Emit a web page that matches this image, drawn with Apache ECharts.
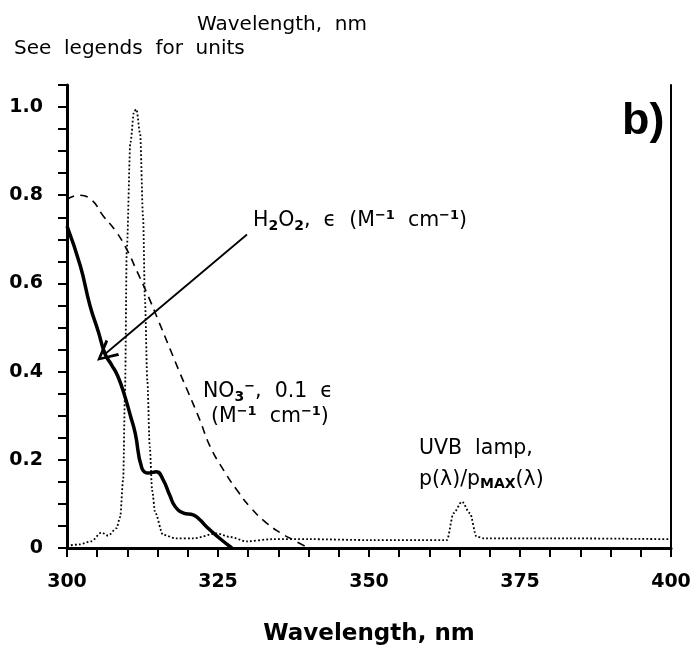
<!DOCTYPE html>
<html>
<head>
<meta charset="utf-8">
<script src="https://cdn.jsdelivr.net/npm/echarts@6/dist/echarts.min.js"></script>
<style>
	html, body { margin: 0; padding: 0; background: #fff; }
	#main { width: 696px; height: 647px; }
</style>
</head>
<body>
<div id="main"></div>
<script>
// 数据：近似值
var h2o2X = [300, 302.2, 303.8, 305.2, 306.3, 307.4, 308.4, 309.6, 310.5, 311.3, 312.4, 313.5, 314.8, 315.9, 317.0, 317.9, 319.3, 320.9, 322.0, 323.1, 325.0, 327.3];
var h2o2Y = [0.73, 0.64, 0.55, 0.49, 0.44, 0.415, 0.39, 0.343, 0.30, 0.26, 0.181, 0.17, 0.173, 0.155, 0.12, 0.094, 0.079, 0.075, 0.064, 0.048, 0.025, 0];

var no3X = [300, 301.9, 304, 306, 308, 309.9, 311.5, 313.2, 315, 317.1, 318.6, 320.1, 322, 323.7, 326, 328.1, 330.5, 333.1, 335.5, 337.5, 340];
var no3Y = [0.79, 0.80, 0.79, 0.753, 0.72, 0.677, 0.63, 0.579, 0.52, 0.45, 0.40, 0.352, 0.29, 0.23, 0.175, 0.132, 0.09, 0.056, 0.033, 0.018, 0];

var lampX = [300, 302, 304, 305.7, 306.8, 308.2, 308.8, 309.3, 309.6, 309.9, 310.5, 311.1, 311.5, 312.1, 312.6, 312.9, 313.3, 313.7, 314.1, 314.6, 315.9, 318, 321, 324.8, 327, 329.7, 334, 340, 350, 362.9, 364, 365.4, 366.7, 367.8, 369, 380, 400];
var lampY = [0.005, 0.008, 0.015, 0.035, 0.028, 0.045, 0.07, 0.155, 0.35, 0.68, 0.92, 0.99, 0.995, 0.94, 0.75, 0.565, 0.38, 0.23, 0.13, 0.08, 0.03, 0.022, 0.022, 0.033, 0.025, 0.015, 0.02, 0.02, 0.018, 0.018, 0.079, 0.105, 0.079, 0.026, 0.022, 0.022, 0.02];

// 箭头的起点与终点（数据坐标）
var arrowFrom = [329.8, 0.711];
var arrowTo = [306.3, 0.44];

function pairs(xs, ys) {
	return xs.map(function (x, i) { return [x, ys[i]]; });
}

var fontFam = 'DejaVu Sans';
var labelRich = {
	n: { fontSize: 20.5, fontFamily: fontFam, color: '#000', lineHeight: 30 },
	sub: { fontSize: 14, fontFamily: fontFam, fontWeight: 'bold', color: '#000', verticalAlign: 'bottom', padding: [0, 0, 3, 0] },
	sup: { fontSize: 13, fontFamily: fontFam, fontWeight: 'bold', color: '#000', verticalAlign: 'top', padding: [3, 0, 0, 0] },
	subb: { fontSize: 14, fontFamily: fontFam, color: '#000', fontWeight: 'bold', verticalAlign: 'bottom', padding: [0, 0, 3, 0] }
};

var myChart = echarts.init(document.getElementById('main'));

var option = {
	backgroundColor: '#fff',
	animation: false,
	grid: { left: 67, right: 25, top: 85, bottom: 99, outerBoundsMode: 'none', containLabel: false },
	xAxis: [{
		type: 'value',
		min: 300,
		max: 400,
		interval: 25,
		name: 'Wavelength, nm',
		nameLocation: 'middle',
		nameGap: 75,
		nameTextStyle: { fontFamily: fontFam, fontSize: 23, fontWeight: 'bold', color: '#000' },
		axisLine: { lineStyle: { color: '#000', width: 3 } },
		axisTick: { inside: false, length: 9, lineStyle: { color: '#000', width: 2 } },
		minorTick: { show: true, splitNumber: 5, length: 9, lineStyle: { color: '#000', width: 2 } },
		axisLabel: { margin: 25, fontFamily: fontFam, fontSize: 19, fontWeight: 'bold', color: '#000' },
		splitLine: { show: false }
	}, {
		type: 'value',
		position: 'top',
		min: 300,
		max: 400,
		axisLine: { show: true, lineStyle: { color: '#000', width: 2 } },
		axisTick: { show: false },
		axisLabel: { show: false },
		splitLine: { show: false }
	}],
	yAxis: [{
		type: 'value',
		min: 0,
		max: 1.05,
		interval: 0.2,
		axisLine: { show: true, lineStyle: { color: '#000', width: 3 } },
		axisTick: { inside: false, length: 9, lineStyle: { color: '#000', width: 2 } },
		minorTick: { show: true, splitNumber: 4, length: 9, lineStyle: { color: '#000', width: 2 } },
		axisLabel: {
			margin: 24,
			fontFamily: fontFam,
			fontSize: 19,
			fontWeight: 'bold',
			color: '#000',
			formatter: function (v) {
				if (Math.abs(v * 5 - Math.round(v * 5)) > 1e-6) return '';
				return v === 0 ? '0' : v.toFixed(1);
			}
		},
		splitLine: { show: false }
	}, {
		type: 'value',
		position: 'right',
		min: 0,
		max: 1.05,
		axisLine: { show: true, lineStyle: { color: '#000', width: 2 } },
		axisTick: { show: false },
		axisLabel: { show: false },
		splitLine: { show: false }
	}],
	series: [{
		name: 'UVB lamp',
		type: 'line',
		data: pairs(lampX, lampY),
		showSymbol: false,
		smooth: 0.3,
		smoothMonotone: 'x',
		lineStyle: { color: '#000', width: 1.8, type: [1.8, 2.2] },
		z: 2
	}, {
		name: 'NO3-',
		type: 'line',
		data: pairs(no3X, no3Y),
		showSymbol: false,
		smooth: true,
		lineStyle: { color: '#000', width: 1.6, type: [8, 6] },
		z: 3
	}, {
		name: 'H2O2',
		type: 'line',
		data: pairs(h2o2X, h2o2Y),
		showSymbol: false,
		smooth: true,
		lineStyle: { color: '#000', width: 3.5 },
		z: 4,
		markLine: {
			silent: true,
			animation: false,
			symbol: ['none', 'path://M0,0 L-6,15 L-4.4,15.7 L0,4.2 L4.4,15.7 L6,15 Z'],
			symbolSize: 21,
			label: { show: false },
			lineStyle: { color: '#000', width: 1.8, type: 'solid' },
			data: [[{ coord: arrowFrom }, { coord: arrowTo }]]
		}
	}],
	graphic: [{
		type: 'text', left: 197, top: 15,
		style: { text: 'Wavelength,  nm', font: '20px "DejaVu Sans"', fill: '#000' }
	}, {
		type: 'text', left: 14, top: 39,
		style: { text: 'See  legends  for  units', font: '20px "DejaVu Sans"', fill: '#000' }
	}, {
		type: 'text', left: 622, top: 99,
		style: { text: 'b)', font: 'bold 45px "Liberation Sans"', fill: '#000' }
	}, {
		type: 'text', left: 253, top: 209,
		style: {
			text: '{n|H}{sub|2}{n|O}{sub|2}{n|,  ϵ  (M}{sup|−1}{n|  cm}{sup|−1}{n|)}',
			rich: labelRich
		}
	}, {
		type: 'text', left: 203, top: 380,
		style: {
			text: '{n|NO}{sub|3}{sup|−}{n|,  0.1  ϵ}',
			rich: labelRich
		}
	}, {
		type: 'text', left: 211, top: 405,
		style: {
			text: '{n|(M}{sup|−1}{n|  cm}{sup|−1}{n|)}',
			rich: labelRich
		}
	}, {
		type: 'text', left: 419, top: 438,
		style: {
			text: '{n|UVB  lamp,}',
			rich: labelRich
		}
	}, {
		type: 'text', left: 419, top: 469,
		style: {
			text: '{n|p(λ)/p}{subb|MAX}{n|(λ)}',
			rich: labelRich
		}
	}]
};

myChart.setOption(option);
</script>
</body>
</html>
